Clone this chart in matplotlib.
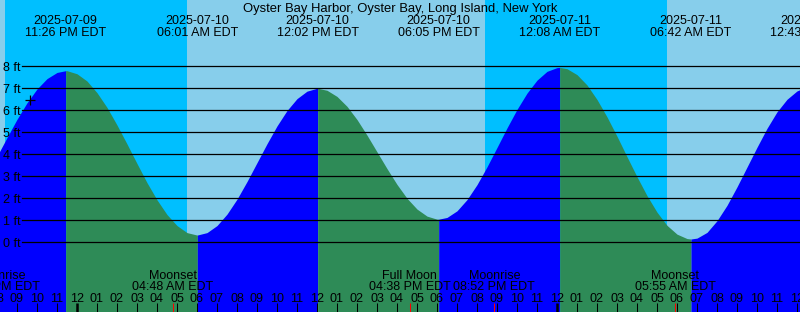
import matplotlib
matplotlib.use("Agg")
import matplotlib.pyplot as plt
import numpy as np
from datetime import datetime, timedelta

# ---------------- data ----------------
TITLE = "Oyster Bay Harbor, Oyster Bay, Long Island, New York"

ext_times = ["2025-07-09 23:26", "2025-07-10 06:01", "2025-07-10 12:02",
             "2025-07-10 18:05", "2025-07-11 00:08", "2025-07-11 06:42",
             "2025-07-11 12:43"]
ext_kinds = ["high", "low", "high", "low", "high", "low", "high"]
ext_heights = [7.8, 0.33, 7.0, 1.05, 7.95, 0.15, 7.1]

# tide heights (ft) read every 30 minutes starting 2025-07-09 20:00
sample_start = "2025-07-09 20:00"
sample_step_min = 30
sample_heights = [
    3.91, 4.76, 5.59, 6.34, 6.97, 7.44, 7.72, 7.80,
    7.66, 7.33, 6.80, 6.13, 5.33, 4.47, 3.58, 2.71, 1.93, 1.26, 0.76, 0.44,
    0.33, 0.44, 0.76, 1.28, 1.96, 2.76, 3.62, 4.48, 5.29, 5.99, 6.53, 6.87,
    7.00, 6.91, 6.63, 6.18, 5.58, 4.87, 4.11, 3.35, 2.63, 2.00, 1.51, 1.19,
    1.05, 1.13, 1.43, 1.94, 2.62, 3.43, 4.31, 5.20, 6.04, 6.78, 7.37, 7.77,
    7.94, 7.89, 7.62, 7.15, 6.49, 5.70, 4.82, 3.89, 2.98, 2.12, 1.37, 0.77,
    0.37, 0.17, 0.19, 0.45, 0.98, 1.68, 2.52, 3.42, 4.32, 5.18, 5.93, 6.50,
    6.88, 7.07,
]

sun_times = ["2025-07-09 20:24", "2025-07-10 05:29", "2025-07-10 20:24",
             "2025-07-11 05:29"]
sun_kinds = ["set", "rise", "set", "rise"]

moon_events = ["Moonrise", "Moonset", "Full Moon", "Moonrise", "Moonset"]
moon_times = ["2025-07-09 20:07", "2025-07-10 04:48", "2025-07-10 16:38",
              "2025-07-10 20:52", "2025-07-11 05:55"]

now_time = "2025-07-09 21:39"
now_height = 6.45

ft_levels = [0, 1, 2, 3, 4, 5, 6, 7, 8]

view_start = "2025-07-09 20:09"
view_hours = 40

# ---------------- helpers ----------------
FMT = "%Y-%m-%d %H:%M"
REF = datetime(2025, 7, 10, 0, 0)


def parse(s):
    return datetime.strptime(s, FMT)


def hrs(dt):
    return (dt - REF).total_seconds() / 3600.0


W, H = 800, 312
ZERO_PX = 242.3   # pixel row (from top) of 0 ft
PX_PER_FT = 22.0

fig = plt.figure(figsize=(W / 100, H / 100), dpi=100)
ax = fig.add_axes([0, 0, 1, 1])
ax.set_axis_off()

x0 = hrs(parse(view_start))
x1 = x0 + view_hours
ybot = (ZERO_PX - H) / PX_PER_FT
ytop = ZERO_PX / PX_PER_FT
ax.set_xlim(x0, x1)
ax.set_ylim(ybot, ytop)

FONT = "Liberation Sans"
FS = 9
DAY = "#87CEEB"
NIGHT = "#00BFFF"
RISE = "#0000FF"
FALL = "#2E8B57"


def yfrac(px):
    return 1 - px / H


xt = ax.get_xaxis_transform()

# sky background
sun_h = [hrs(parse(s)) for s in sun_times]
bounds = [x0 - 5] + sun_h + [x1 + 5]
for i in range(len(bounds) - 1):
    if i < len(sun_kinds):
        col = DAY if sun_kinds[i] == "set" else NIGHT
    else:
        col = DAY if sun_kinds[-1] == "rise" else NIGHT
    ax.axvspan(bounds[i], bounds[i + 1], color=col, lw=0, zorder=0)

# tide fill
st = parse(sample_start)
s_t = [hrs(st + timedelta(minutes=sample_step_min * i)) for i in range(len(sample_heights))]
e_t = [hrs(parse(s)) for s in ext_times]
all_t = np.array(s_t + e_t)
all_h = np.array(sample_heights + ext_heights)
order = np.argsort(all_t)
all_t, all_h = all_t[order], all_h[order]

seg_b = [-1e9] + e_t + [1e9]
for i in range(len(seg_b) - 1):
    m = (all_t >= seg_b[i]) & (all_t <= seg_b[i + 1])
    if m.sum() < 2:
        continue
    if i < len(ext_kinds):
        col = RISE if ext_kinds[i] == "high" else FALL
    else:
        col = FALL if ext_kinds[-1] == "high" else RISE
    ax.fill_between(all_t[m], all_h[m], ybot - 1, color=col, lw=0, zorder=1)

# horizontal ft lines and labels
for f in ft_levels:
    ax.axhline(f, xmin=22 / W, xmax=1, color="black", lw=0.9, zorder=3)
    ax.text(3 / W, f, f"{f} ft", transform=ax.get_yaxis_transform(),
            ha="left", va="center_baseline", fontsize=FS, family=FONT, zorder=4)

# now marker
ax.plot([hrs(parse(now_time))], [now_height], marker="+", color="black",
        ms=7, mew=0.9, zorder=5)

# header
fig.text(0.5, yfrac(11.7), TITLE, ha="center", va="baseline",
         fontsize=9.4, family=FONT)
for s in ext_times:
    d = parse(s)
    ax.text(hrs(d), yfrac(24.3), d.strftime("%Y-%m-%d"), transform=xt,
            ha="center", va="baseline", fontsize=FS, family=FONT, zorder=5)
    ax.text(hrs(d), yfrac(36.0), d.strftime("%I:%M %p EDT"), transform=xt,
            ha="center", va="baseline", fontsize=FS, family=FONT, zorder=5)

# hour ticks and labels
hstart = int(np.floor(x0)) - 1
hend = int(np.ceil(x1)) + 1
for hh in range(hstart, hend + 1):
    d = REF + timedelta(hours=hh)
    lw = 1.8 if d.hour == 0 else 0.75
    ax.plot([hh, hh], [yfrac(303), 0], transform=xt, color="black", lw=lw,
            solid_capstyle="butt", zorder=4)
    ax.text(hh, yfrac(302), d.strftime("%I"), transform=xt, ha="center",
            va="baseline", fontsize=FS, family=FONT, zorder=5)

# moon events
for name, s in zip(moon_events, moon_times):
    d = parse(s)
    x = hrs(d)
    ax.plot([x, x], [yfrac(303), 0], transform=xt, color="red", lw=0.75,
            solid_capstyle="butt", zorder=4)
    ax.text(x, yfrac(278.7), name, transform=xt, ha="center", va="baseline",
            fontsize=FS, family=FONT, zorder=5)
    ax.text(x, yfrac(290.0), d.strftime("%I:%M %p EDT"), transform=xt,
            ha="center", va="baseline", fontsize=FS, family=FONT, zorder=5)

fig.savefig("out.png", dpi=100)
